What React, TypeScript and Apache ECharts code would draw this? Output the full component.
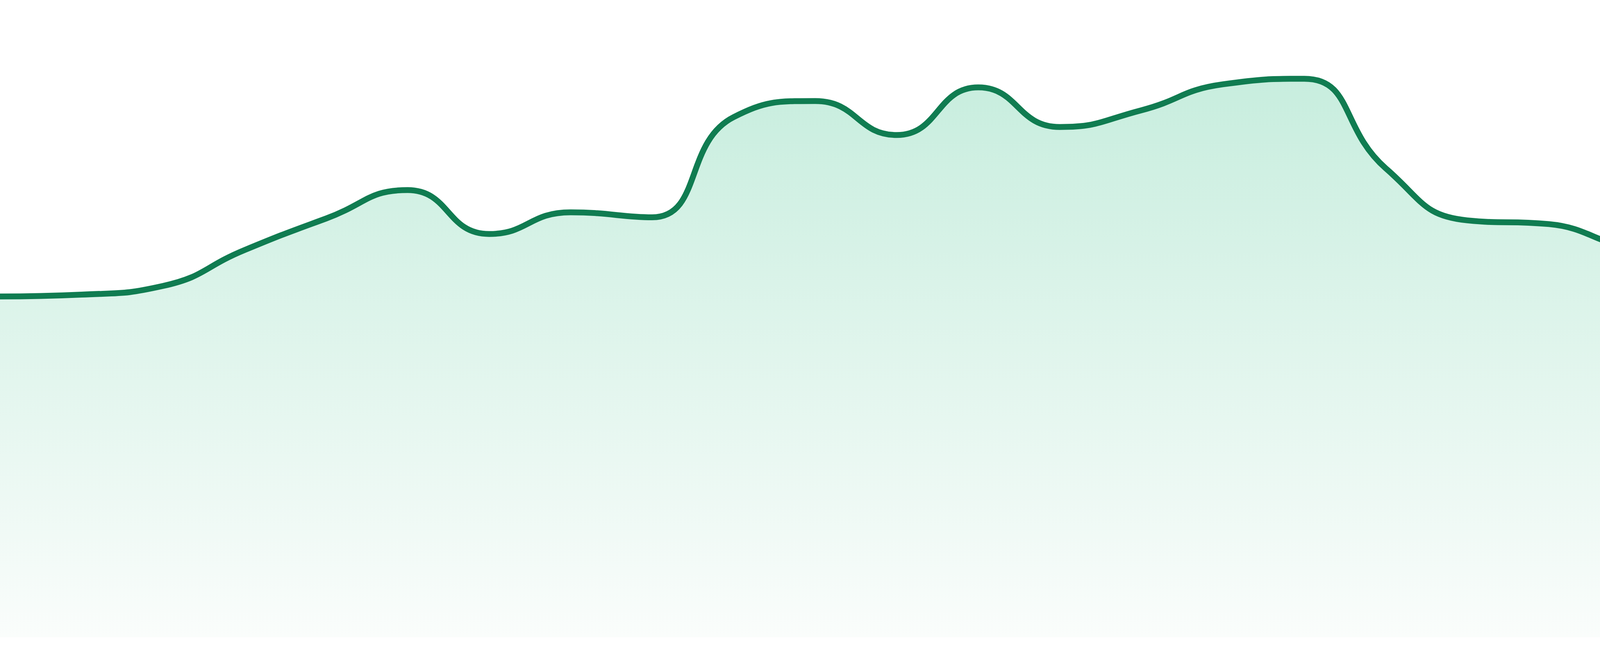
import React, { useEffect, useRef } from "react";
import * as echarts from "echarts";

const categories = [
  "00:00", "01:00", "02:00", "03:00", "04:00", "05:00", "06:00", "07:00",
  "08:00", "09:00", "10:00", "11:00", "12:00", "13:00", "14:00", "15:00",
  "16:00", "17:00", "18:00", "19:00", "20:00", "21:00", "22:00", "23:00",
];

const values = [
  55.1, 55.4, 56.8, 62.6, 67.7, 72.3, 65.2, 68.7,
  67.9, 84.1, 86.7, 81.2, 88.9, 82.5, 85.2, 89.4,
  90.3, 75.8, 67.4, 66.8, 63.4, 77.6, 66.7, 59.7,
];

const yMin = 0;
const yMax = 100;

export default function App() {
  const ref = useRef<HTMLDivElement>(null);

  useEffect(() => {
    if (!ref.current) return;
    const chart = echarts.init(ref.current, undefined, { renderer: "svg" });
    chart.setOption({
      animation: false,
      backgroundColor: "#ffffff",
      grid: { left: 0, right: 0, top: 48, bottom: 48 },
      xAxis: {
        type: "category",
        data: categories,
        boundaryGap: false,
        show: false,
      },
      yAxis: {
        type: "value",
        min: yMin,
        max: yMax,
        show: false,
      },
      series: [
        {
          type: "line",
          data: values,
          smooth: true,
          showSymbol: false,
          lineStyle: { color: "#107c51", width: 15 },
          itemStyle: { color: "#107c51" },
          areaStyle: {
            color: new echarts.graphic.LinearGradient(0, 0, 0, 1, [
              { offset: 0, color: "#b0e6d0" },
              { offset: 1, color: "#f8fcfa" },
            ]),
          },
        },
      ],
    });
    return () => chart.dispose();
  }, []);

  return (
    <div
      ref={ref}
      style={{ position: "fixed", left: 0, top: 0, width: 4800, height: 1680 }}
    />
  );
}
